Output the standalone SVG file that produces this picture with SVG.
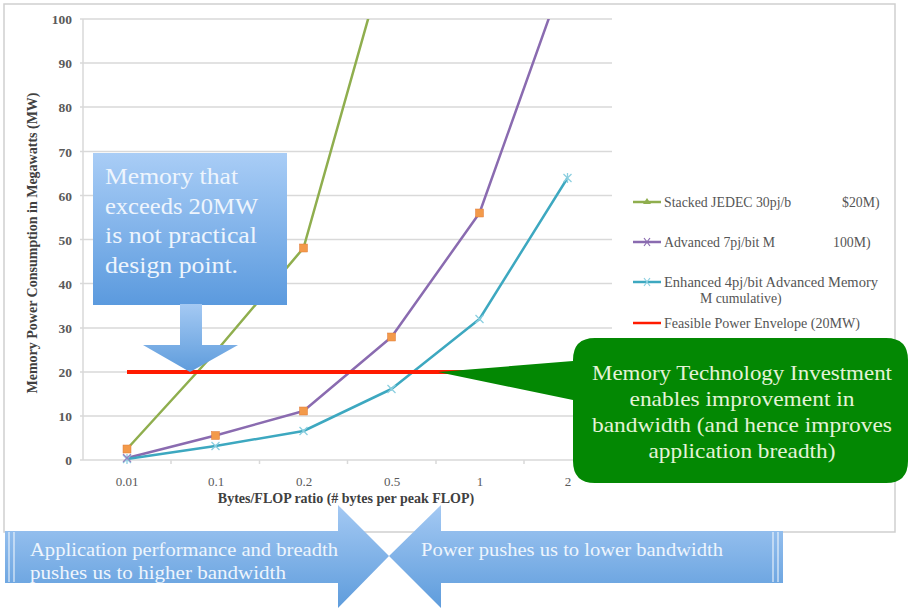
<svg xmlns="http://www.w3.org/2000/svg" width="910" height="610" viewBox="0 0 910 610">
<defs>
<linearGradient id="blueG" x1="0" y1="0" x2="0" y2="1">
<stop offset="0" stop-color="#a9cdf6"/>
<stop offset="1" stop-color="#5b9ade"/>
</linearGradient>
<linearGradient id="blueB" x1="0" y1="0" x2="0" y2="1">
<stop offset="0" stop-color="#a4c9f3"/>
<stop offset="1" stop-color="#5e9cdc"/>
</linearGradient>
<clipPath id="plot"><rect x="83" y="19" width="530" height="442"/></clipPath>
<style>
.grid{stroke:#d9d9d9;stroke-width:1.5}
.ylab{font-family:"Liberation Serif",serif;font-size:13.5px;font-weight:bold;fill:#5a5a5a;text-anchor:end}
.xlab{font-family:"Liberation Serif",serif;font-size:13px;fill:#5a5a5a;text-anchor:middle}
.title{font-family:"Liberation Serif",serif;font-size:14px;font-weight:bold;fill:#404040;text-anchor:middle}
.leg{font-family:"Liberation Serif",serif;font-size:13.8px;fill:#555}
.ser{fill:none;stroke-width:2.5;stroke-linejoin:round}
.sq{fill:#f39a4a;stroke:#e07b3a;stroke-width:0.5}
.call{font-family:"Liberation Serif",serif;font-size:24px;fill:#eef5fd}
.gtxt{font-family:"Liberation Serif",serif;font-size:21px;fill:#e4f3d8;text-anchor:middle}
.btxt{font-family:"Liberation Serif",serif;font-size:19px;fill:#eef5fd}
.white{stroke:#ffffff;stroke-width:1.2;opacity:0.8}
</style>
</defs>
<rect width="910" height="610" fill="#ffffff"/>
<g id="chart">
<rect x="4" y="4" width="891" height="528" fill="#ffffff" stroke="#cfcfcf" stroke-width="1.5"/>
<g id="gridlines">
<line class="grid" x1="80" y1="19" x2="612" y2="19"/>
<line class="grid" x1="80" y1="63" x2="612" y2="63"/>
<line class="grid" x1="80" y1="107" x2="612" y2="107"/>
<line class="grid" x1="80" y1="151.5" x2="612" y2="151.5"/>
<line class="grid" x1="80" y1="195.5" x2="612" y2="195.5"/>
<line class="grid" x1="80" y1="239.5" x2="612" y2="239.5"/>
<line class="grid" x1="80" y1="283.5" x2="612" y2="283.5"/>
<line class="grid" x1="80" y1="328" x2="612" y2="328"/>
<line class="grid" x1="80" y1="372" x2="612" y2="372"/>
<line class="grid" x1="80" y1="416" x2="612" y2="416"/>
<line class="grid" x1="80" y1="460" x2="612" y2="460"/>
<line class="grid" x1="83" y1="19" x2="83" y2="460"/>
<line class="grid" x1="171" y1="460" x2="171" y2="464"/>
<line class="grid" x1="259.5" y1="460" x2="259.5" y2="464"/>
<line class="grid" x1="347.5" y1="460" x2="347.5" y2="464"/>
<line class="grid" x1="436" y1="460" x2="436" y2="464"/>
<line class="grid" x1="524" y1="460" x2="524" y2="464"/>
<line class="grid" x1="612" y1="460" x2="612" y2="464"/>
</g>
<g id="ylabels">
<text class="ylab" x="72" y="24">100</text>
<text class="ylab" x="72" y="68">90</text>
<text class="ylab" x="72" y="112">80</text>
<text class="ylab" x="72" y="156.5">70</text>
<text class="ylab" x="72" y="200.5">60</text>
<text class="ylab" x="72" y="244.5">50</text>
<text class="ylab" x="72" y="288.5">40</text>
<text class="ylab" x="72" y="333">30</text>
<text class="ylab" x="72" y="377">20</text>
<text class="ylab" x="72" y="421">10</text>
<text class="ylab" x="72" y="465">0</text>
</g>
<g id="xlabels">
<text class="xlab" x="127" y="486">0.01</text>
<text class="xlab" x="216" y="486">0.1</text>
<text class="xlab" x="304" y="486">0.2</text>
<text class="xlab" x="392" y="486">0.5</text>
<text class="xlab" x="480" y="486">1</text>
<text class="xlab" x="568" y="486">2</text>
</g>
<text class="title" x="346" y="503">Bytes/FLOP ratio (# bytes per peak FLOP)</text>
<text class="title" transform="translate(37,243) rotate(-90)">Memory Power Consumption in Megawatts (MW)</text>
<g id="series" clip-path="url(#plot)">
<polyline class="ser" stroke="#8fae4e" points="127,449 215.5,352 303.5,248 391.5,-64"/>
<polyline class="ser" stroke="#8a6bb0" points="127,458 215.5,435.5 303.5,411 391.5,337 479.5,213 567.5,-34"/>
<polyline class="ser" stroke="#3da8c0" points="127,459 215.5,446 303.5,431 391.5,389 479.5,319 567.5,178"/>
</g>
<g id="markers">
<g stroke="#8ccfe0" stroke-width="1.3">
<path d="M123,455 l8,8 M131,455 l-8,8 M127,454 v10"/>
<path d="M211.5,442 l8,8 M219.5,442 l-8,8"/>
<path d="M299.5,427 l8,8 M307.5,427 l-8,8"/>
<path d="M387.5,385 l8,8 M395.5,385 l-8,8"/>
<path d="M475.5,315 l8,8 M483.5,315 l-8,8"/>
<path d="M563.5,174 l8,8 M571.5,174 l-8,8 M567.5,173 v10"/>
</g>
<g stroke="#9a82c0" stroke-width="1.2">
<path d="M123,454 l8,8 M131,454 l-8,8"/>
</g>
<rect class="sq" x="123" y="445" width="8" height="8"/>
<rect class="sq" x="211.5" y="431.5" width="8" height="8"/>
<rect class="sq" x="299.5" y="244" width="8" height="8"/>
<rect class="sq" x="299.5" y="407" width="8" height="8"/>
<rect class="sq" x="387.5" y="333" width="8" height="8"/>
<rect class="sq" x="475.5" y="209" width="8" height="8"/>
</g>
<line id="envelope" x1="127" y1="372" x2="567" y2="372" stroke="#ff1a00" stroke-width="4"/>
<g id="legend">
<line x1="633" y1="202" x2="661" y2="202" stroke="#8fae4e" stroke-width="2.5"/>
<path d="M647,198 l-4,6 h8 z" fill="#8fae4e"/>
<text class="leg" x="664" y="207">Stacked JEDEC 30pj/b</text>
<text class="leg" x="842" y="207">$20M)</text>
<line x1="633" y1="242" x2="661" y2="242" stroke="#8a6bb0" stroke-width="2.5"/>
<path d="M644,238 l6,8 M650,238 l-6,8" stroke="#8a6bb0" stroke-width="1.2"/>
<text class="leg" x="664" y="247">Advanced 7pj/bit M</text>
<text class="leg" x="833" y="247">100M)</text>
<line x1="633" y1="282" x2="661" y2="282" stroke="#3da8c0" stroke-width="2.5"/>
<path d="M644,278 l6,8 M650,278 l-6,8" stroke="#8ccfe0" stroke-width="1.2"/>
<text class="leg" x="664" y="287" textLength="214" lengthAdjust="spacingAndGlyphs">Enhanced 4pj/bit Advanced Memory</text>
<text class="leg" x="700" y="303">M cumulative)</text>
<line x1="633" y1="323" x2="661" y2="323" stroke="#ff1a00" stroke-width="2.5"/>
<text class="leg" x="664" y="328" textLength="196" lengthAdjust="spacingAndGlyphs">Feasible Power Envelope (20MW)</text>
</g>
</g>
<g id="callout-20mw">
<rect x="93" y="153" width="194" height="152" fill="url(#blueG)"/>
<path d="M180,304 h22 v41 h36 l-48,27 l-47,-27 h37 z" fill="url(#blueB)"/>
<text class="call" x="105" y="184" textLength="133" lengthAdjust="spacingAndGlyphs">Memory that</text>
<text class="call" x="105" y="214" textLength="153" lengthAdjust="spacingAndGlyphs">exceeds 20MW</text>
<text class="call" x="105" y="243" textLength="152" lengthAdjust="spacingAndGlyphs">is not practical</text>
<text class="call" x="105" y="273" textLength="133" lengthAdjust="spacingAndGlyphs">design point.</text>
</g>
<g id="callout-investment">
<path d="M595,338 H886 Q908,338 908,360 V461 Q908,483 886,483 H595 Q573,483 573,461 V400 L438,372 L573,361 V360 Q573,338 595,338 Z" fill="#038803"/>
<text class="gtxt" x="742" y="380" textLength="300" lengthAdjust="spacingAndGlyphs">Memory Technology Investment</text>
<text class="gtxt" x="742" y="406" textLength="225" lengthAdjust="spacingAndGlyphs">enables improvement in</text>
<text class="gtxt" x="742" y="432" textLength="300" lengthAdjust="spacingAndGlyphs">bandwidth (and hence improves</text>
<text class="gtxt" x="742" y="458" textLength="187" lengthAdjust="spacingAndGlyphs">application breadth)</text>
</g>
<g id="arrow-left">
<path d="M5,531 H338 V505 L389,556 L338,608 V583 H5 Z" fill="url(#blueB)"/>
<line class="white" x1="9" y1="532" x2="9" y2="582"/>
<line class="white" x1="14" y1="532" x2="14" y2="582"/>
<text class="btxt" x="30" y="556" textLength="308" lengthAdjust="spacingAndGlyphs">Application performance and breadth</text>
<text class="btxt" x="30" y="579" textLength="256" lengthAdjust="spacingAndGlyphs">pushes us to higher bandwidth</text>
</g>
<g id="arrow-right">
<path d="M389,556 L441,505 V531 H783 V583 H441 V608 Z" fill="url(#blueB)"/>
<line class="white" x1="773" y1="532" x2="773" y2="582"/>
<line class="white" x1="778" y1="532" x2="778" y2="582"/>
<text class="btxt" x="421" y="556" textLength="302" lengthAdjust="spacingAndGlyphs">Power pushes us to lower bandwidth</text>
</g>
</svg>
